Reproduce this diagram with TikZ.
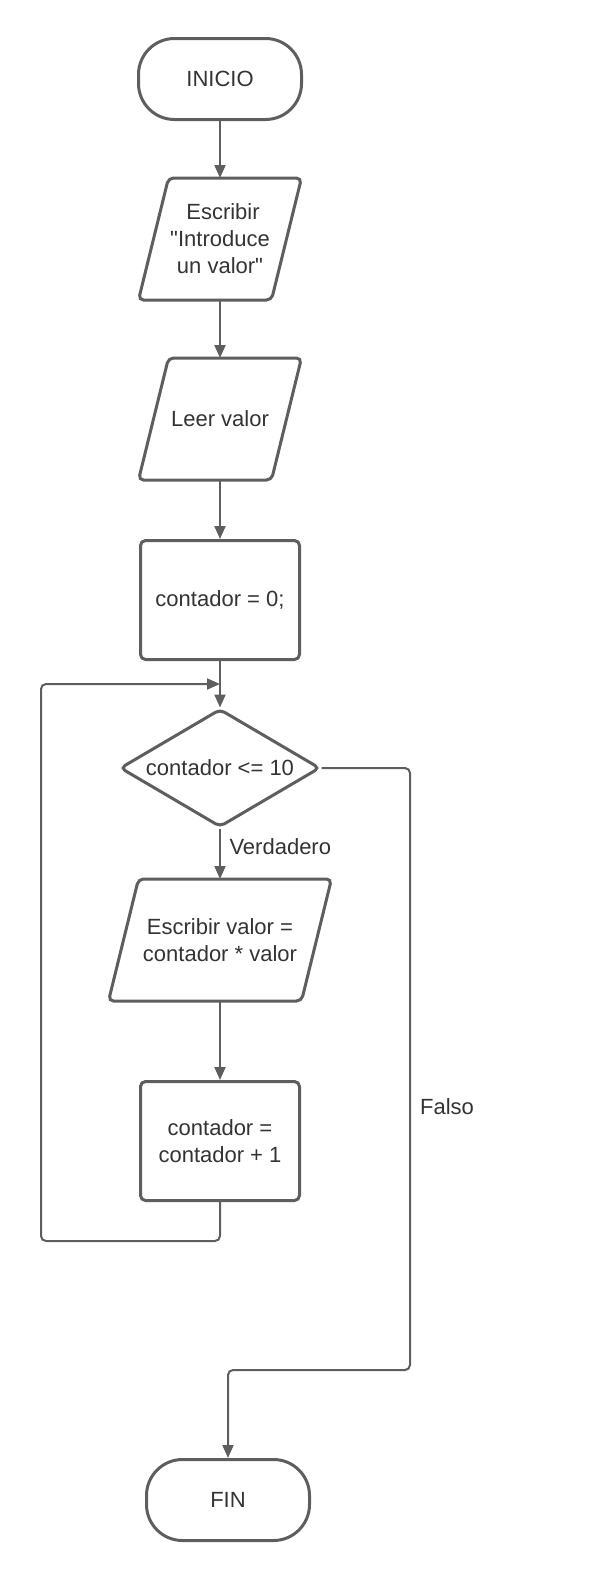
\documentclass[tikz,border=0pt]{standalone}
\usepackage{fontspec}
\setmainfont{Liberation Sans}[Ligatures=TeXOff]
\usetikzlibrary{shapes.geometric,arrows.meta}

\definecolor{linea}{HTML}{5E5E5E}
\definecolor{texto}{HTML}{333333}

\tikzset{
  base/.style={draw=linea, line width=3pt, text=texto, align=center,
    font=\fontsize{22}{27}\selectfont, inner sep=0pt},
  terminal/.style={base, rectangle, rounded corners=36pt,
    minimum width=163pt, minimum height=81pt},
  io/.style={base, draw=none, rectangle, minimum width=130pt, minimum height=119pt},
  borde/.style={draw=linea, line width=3pt, rounded corners=5pt},
  proceso/.style={base, rectangle, rounded corners=5pt,
    minimum width=159pt, minimum height=119pt},
  decision/.style={base, diamond, aspect=1.675, rounded corners=5pt,
    minimum width=200pt, minimum height=118pt},
  flecha/.style={draw=linea, line width=2pt, rounded corners=5pt,
    -{Triangle[length=13pt,width=11pt]}},
  etiqueta/.style={text=texto, font=\fontsize{22}{27}\selectfont}
}

% contorno inclinado de entrada/salida alrededor de un nodo
\newcommand{\marcoES}[1]{%
  \draw[borde] ([xshift=15pt]#1.north west) -- ([xshift=15pt]#1.north east)
    -- ([xshift=-15pt]#1.south east) -- ([xshift=-15pt]#1.south west) -- cycle;}

\begin{document}
\begin{tikzpicture}[x=1pt,y=-1pt]
  \useasboundingbox (0,0) rectangle (610,1580);

  % Bloques del diagrama
  \node[terminal] (inicio) at (220,79) {INICIO};
  \node[io] (escribir) at (220,239) {\hspace*{6pt}Escribir\\"Introduce\\un valor"};
  \node[io] (leer) at (220,419) {Leer valor};
  \node[proceso] (cero) at (220,600) {contador = 0;};
  \node[decision] (cond) at (220,768) {contador <= 10};
  \node[io, minimum width=190pt] (mostrar) at (220,940) {Escribir valor =\\contador * valor};
  \node[proceso] (incr) at (220,1141) {contador =\\contador + 1};
  \node[terminal] (fin) at (228,1500) {FIN};

  \marcoES{escribir}
  \marcoES{leer}
  \marcoES{mostrar}

  % Puntos de paso
  \coordinate (union) at (220,684);
  \coordinate (izq) at (41,1241);
  \coordinate (der) at (410,1370);

  % Flujo principal
  \draw[flecha] (inicio) -- (escribir);
  \draw[flecha] (escribir) -- (leer);
  \draw[flecha] (leer) -- (cero);
  \draw[flecha] (cero) -- (cond);
  \draw[flecha] (cond) -- (mostrar);
  \draw[flecha] (mostrar) -- (incr);

  % Bucle de vuelta
  \draw[flecha] (incr.south) |- (izq) |- (union);

  % Salida por falso
  \draw[flecha] (cond.east) -| (der) -| (fin.north);

  % Etiquetas
  \node[etiqueta, anchor=west] (verdadero) at (226,847) {Verdadero};
  \node[etiqueta] (falso) at (447,1107) {Falso};
\end{tikzpicture}
\end{document}
